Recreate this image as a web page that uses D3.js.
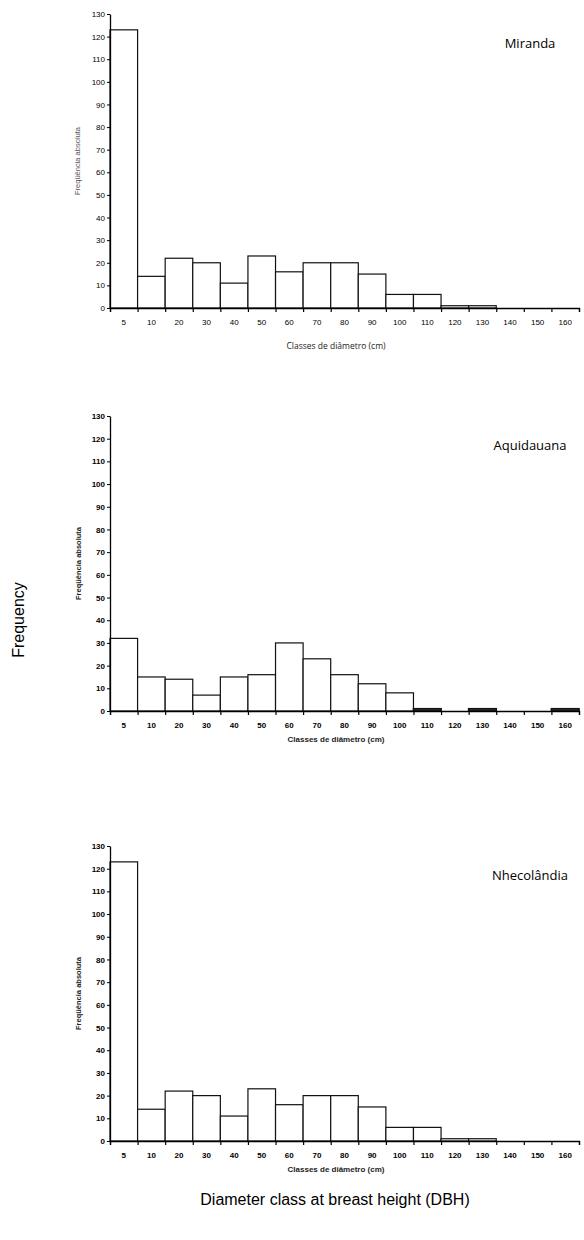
<!DOCTYPE html>
<html>
<head>
<meta charset="utf-8">
<script src="https://cdn.jsdelivr.net/npm/d3@7"></script>
<style>
  body { margin: 0; background: #fff; }
  svg { display: block; }
</style>
</head>
<body>
<svg id="chart" width="584" height="1240"></svg>
<script>
// diameter classes (cm)
const classes = ["5", "10", "20", "30", "40", "50", "60", "70", "80", "90", "100", "110", "120", "130", "140", "150", "160"];
const yTicks = [0, 10, 20, 30, 40, 50, 60, 70, 80, 90, 100, 110, 120, 130];

// absolute frequency per class
const miranda     = [123, 14, 22, 20, 11, 23, 16, 20, 20, 15, 6, 6, 1, 1, 0, 0, 0];
const aquidauana  = [32, 15, 14, 7, 15, 16, 30, 23, 16, 12, 8, 1, 0, 1, 0, 0, 1];
const nhecolandia = [123, 14, 22, 20, 11, 23, 16, 20, 20, 15, 6, 6, 1, 1, 0, 0, 0];

const panels = [
  {name: "Miranda", values: miranda, top: 14, bottom: 308, bold: false, darkSmall: false},
  {name: "Aquidauana", values: aquidauana, top: 416, bottom: 711, bold: true, darkSmall: true},
  {name: "Nhecolândia", values: nhecolandia, top: 846, bottom: 1141, bold: true, darkSmall: false}
];

const svg = d3.select("#chart");
const left = 110, right = 579;

let xScale = d3.scaleBand()
    .domain(classes)
    .range([left, right])
    .padding(0);

// bin edges for the x tick marks
let edgeScale = d3.scaleLinear()
    .domain([0, classes.length])
    .range([left, right]);

panels.forEach((p) => {
    let g = svg.append("g");

    let yScale = d3.scaleLinear()
        .domain([0, 130])
        .range([p.bottom, p.top]);

    // bars
    g.selectAll("rect")
        .data(p.values)
        .enter().append("rect")
        .attr("x", (d, i) => xScale(classes[i]))
        .attr("width", xScale.bandwidth())
        .attr("y", (d) => yScale(d))
        .attr("height", (d) => p.bottom - yScale(d))
        .attr("fill", (d) => p.darkSmall && d <= 1 && d > 0 ? "#444" : "#fff")
        .attr("stroke", "#111")
        .attr("stroke-width", (d) => p.darkSmall && d <= 1 ? 1.6 : 1.2);

    //Add the y Axis
    let yAxis = g.append("g")
        .attr("transform", "translate(" + left + ",0)")
        .call(d3.axisLeft(yScale).tickValues(yTicks).tickSize(3).tickPadding(2).tickSizeOuter(0));
    yAxis.select(".domain").attr("stroke", "#000").attr("stroke-width", 1.3);
    yAxis.selectAll("text")
        .style("font-family", "Liberation Sans, Arial, sans-serif")
        .style("font-size", "8px")
        .style("font-weight", p.bold ? "bold" : "normal")
        .attr("fill", "#000");

    //Add the x Axis tick marks at bin edges
    let xEdges = g.append("g")
        .attr("transform", "translate(0," + p.bottom + ")")
        .call(d3.axisBottom(edgeScale).ticks(classes.length).tickSize(4).tickFormat("").tickSizeOuter(4));
    xEdges.select(".domain").attr("stroke", "#000").attr("stroke-width", 1.3);
    xEdges.selectAll("line").attr("stroke-width", 1.2);

    //Add the x Axis labels centred in bins
    let xLabels = g.append("g")
        .attr("transform", "translate(0," + p.bottom + ")")
        .call(d3.axisBottom(xScale).tickSize(0).tickPadding(11));
    xLabels.select(".domain").remove();
    xLabels.selectAll("text")
        .style("font-family", "Liberation Sans, Arial, sans-serif")
        .style("font-size", "8px")
        .style("font-weight", p.bold ? "bold" : "normal")
        .attr("fill", "#000");

    //Add the x Axis title
    g.append("text")
        .attr("x", 336)
        .attr("y", p.bottom + (p.bold ? 31 : 41))
        .attr("text-anchor", "middle")
        .style("font-family", p.bold ? "Liberation Sans, Arial, sans-serif" : "Open Sans, sans-serif")
        .style("font-size", p.bold ? "8px" : "8.5px")
        .style("font-weight", p.bold ? "bold" : "normal")
        .attr("fill", "#222")
        .text("Classes de diâmetro (cm)");

    //Add the y Axis title
    g.append("text")
        .attr("transform", "rotate(-90)")
        .attr("x", -(p.top + p.bottom) / 2)
        .attr("y", p.bold ? 81 : 80)
        .attr("text-anchor", "middle")
        .style("font-family", "Liberation Sans, Arial, sans-serif")
        .style("font-size", "7.5px")
        .style("font-weight", p.bold ? "bold" : "normal")
        .attr("fill", p.bold ? "#222" : "#555")
        .text("Freqüência absoluta");

    //Add the region name
    g.append("text")
        .attr("x", 530)
        .attr("y", p.top + 34)
        .attr("text-anchor", "middle")
        .style("font-family", "Open Sans, sans-serif")
        .style("font-size", "13px")
        .attr("fill", "#000")
        .text(p.name);
});

// overall titles
svg.append("text")
    .attr("transform", "rotate(-90)")
    .attr("x", -620)
    .attr("y", 24)
    .attr("text-anchor", "middle")
    .style("font-family", "Liberation Sans, Arial, sans-serif")
    .style("font-size", "16px")
    .attr("fill", "#000")
    .text("Frequency");

svg.append("text")
    .attr("x", 335)
    .attr("y", 1205)
    .attr("text-anchor", "middle")
    .style("font-family", "Liberation Sans, Arial, sans-serif")
    .style("font-size", "16px")
    .attr("fill", "#000")
    .text("Diameter class at breast height (DBH)");
</script>
</body>
</html>
